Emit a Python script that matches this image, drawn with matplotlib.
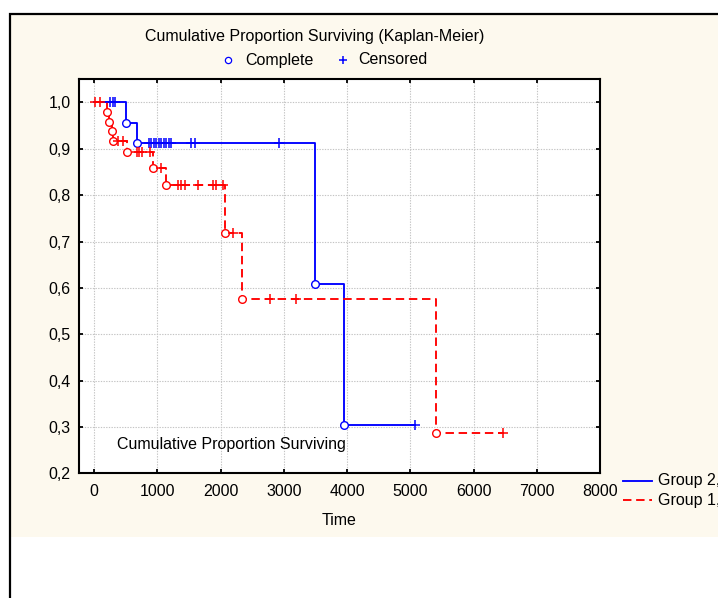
import matplotlib
matplotlib.use("Agg")
import matplotlib.pyplot as plt
from matplotlib.lines import Line2D
from matplotlib.patches import Rectangle
from matplotlib.ticker import FuncFormatter

plt.rcParams['font.family'] = ['Liberation Sans', 'DejaVu Sans']

# ---- data -------------------------------------------------------------
# Group 2 (solid blue): event times and survival level after each event
g2_event_times = [496, 670, 3497, 3945]
g2_event_surv = [0.9565, 0.913, 0.609, 0.3045]
g2_cens_times = [255, 290, 330, 860, 900, 940, 980, 1020, 1060, 1100, 1140,
                 1180, 1222, 1538, 1590, 2918, 5081]

# Group 1 (dashed red)
g1_event_times = [195, 230, 285, 300, 512, 932, 1143, 2065, 2338, 5408]
g1_event_surv = [0.979, 0.958, 0.9375, 0.9167, 0.893, 0.859, 0.821, 0.718,
                 0.575, 0.2875]
g1_cens_times = [10, 90, 380, 458, 680, 715, 750, 880, 1054, 1330, 1380, 1440,
                 1643, 1880, 1934, 2040, 2195, 2780, 3185, 6472]

x_ticks = [0, 1000, 2000, 3000, 4000, 5000, 6000, 7000, 8000]
y_ticks = [0.2, 0.3, 0.4, 0.5, 0.6, 0.7, 0.8, 0.9, 1.0]

# ---- figure -----------------------------------------------------------
W, H = 718, 598
CREAM = '#FDF9EE'
FS = 11.5
LW = 1.35
DASH = (4.5, 2.5)
fig = plt.figure(figsize=(W / 100, H / 100), dpi=100)


def fx(px):
    return px / W


def fy(py):
    return 1 - py / H


fig.add_artist(Rectangle((fx(10), fy(537)), 1.2, fy(14) - fy(537),
                         transform=fig.transFigure, facecolor=CREAM,
                         edgecolor='none', zorder=0))
fig.add_artist(Rectangle((fx(10), -0.2), 1.2, fy(14) + 0.2,
                         transform=fig.transFigure, fill=False,
                         edgecolor='black', lw=1.6, zorder=1))

ax = fig.add_axes([fx(79), fy(473.3), fx(600) - fx(79), fy(79.3) - fy(473.3)])
ax.set_facecolor('white')
ax.set_xlim(-240, 8000)
ax.set_ylim(0.2, 1.05)
ax.set_xticks(x_ticks)
ax.set_yticks(y_ticks)
ax.yaxis.set_major_formatter(FuncFormatter(lambda v, p: f"{v:.1f}".replace('.', ',')))
ax.tick_params(direction='in', length=3, width=1.3, top=True, right=True,
               labelsize=FS, pad=6)
ax.tick_params(axis='x', pad=8)
for s in ax.spines.values():
    s.set_linewidth(1.5)
ax.grid(True, color='#C4C4C4', linestyle=(0, (1.2, 1.2)), linewidth=0.8)
ax.set_axisbelow(True)


def surv_at(t, times, surv):
    level = 1.0
    for et, s in zip(times, surv):
        if et <= t:
            level = s
    return level


def draw_group(ev_t, ev_s, cens_t, color, dashes):
    last = max(cens_t[-1], ev_t[-1])
    xs = [0] + ev_t + [last]
    ys = [1.0] + ev_s + [ev_s[-1]]
    line, = ax.step(xs, ys, where='post', color=color, lw=LW, zorder=3)
    if dashes is not None:
        line.set_dashes(dashes)
    ax.plot(ev_t, ev_s, 'o', ms=5.5, mfc='white', mec=color, mew=1.0, zorder=4)
    cs = [surv_at(t, ev_t, ev_s) for t in cens_t]
    ax.plot(cens_t, cs, '+', ms=6.5, mec=color, mew=1.1, zorder=4)


draw_group(g2_event_times, g2_event_surv, g2_cens_times, '#0000FF', None)
draw_group(g1_event_times, g1_event_surv, g1_cens_times, '#FF0000', DASH)

ax.set_xlabel('Time', fontsize=FS)
ax.xaxis.set_label_coords(0.5, (473.3 - 520.7) / (473.3 - 79.3))
ax.xaxis.label.set_va('center')

inner = ax.text(0, 0, 'Cumulative Proportion Surviving', fontsize=FS,
                ha='left', va='center', transform=fig.transFigure)
inner.set_position((fx(116.7), fy(445)))

# ---- titles and legends ---------------------------------------------
fig.text(fx(315), fy(36.7), 'Cumulative Proportion Surviving (Kaplan-Meier)',
         fontsize=FS, ha='center', va='center')
fig.add_artist(Line2D([fx(228.3)], [fy(60)], marker='o', ms=4.5, mfc='white',
                      mec='#0000FF', mew=0.9, transform=fig.transFigure))
fig.text(fx(245), fy(60), 'Complete', fontsize=FS, ha='left', va='center')
fig.add_artist(Line2D([fx(343)], [fy(60)], marker='+', ms=6, mec='#0000FF',
                      mew=1.1, transform=fig.transFigure))
fig.text(fx(358), fy(60), 'Censored', fontsize=FS, ha='left', va='center')

fig.add_artist(Line2D([fx(623), fx(652)], [fy(480.7)] * 2, color='#0000FF',
                      lw=LW, transform=fig.transFigure))
leg_red = Line2D([fx(623), fx(652)], [fy(500.3)] * 2, color='#FF0000',
                 lw=LW, transform=fig.transFigure)
leg_red.set_dashes(DASH)
fig.add_artist(leg_red)
fig.text(fx(658), fy(480.7), 'Group 2,', fontsize=FS, ha='left', va='center')
fig.text(fx(658), fy(500.3), 'Group 1,', fontsize=FS, ha='left', va='center')

fig.savefig('out.png', dpi=100)
